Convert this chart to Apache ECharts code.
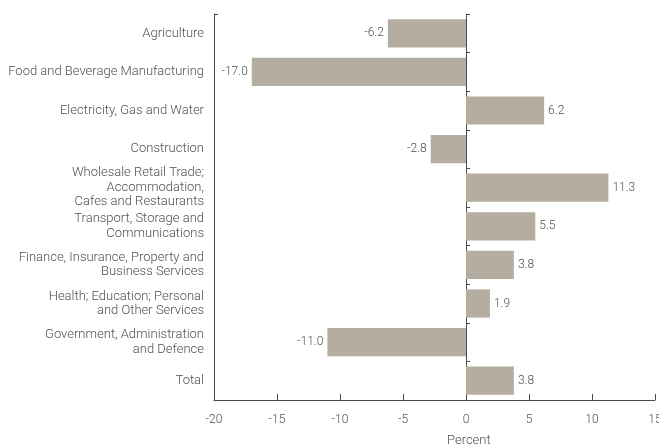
<!DOCTYPE html>
<html>
<head>
<meta charset="utf-8">
<script src="https://cdn.jsdelivr.net/npm/echarts@6/dist/echarts.min.js"></script>
<style>
  html, body { margin: 0; padding: 0; background: #fff; }
  #chart { width: 659px; height: 448px; }
</style>
</head>
<body>
<div id="chart"></div>
<script>
// Industry categories, top to bottom
const categories = [
  'Agriculture',
  'Food and Beverage Manufacturing',
  'Electricity, Gas and Water',
  'Construction',
  'Wholesale Retail Trade;\nAccommodation,\nCafes and Restaurants',
  'Transport, Storage and\nCommunications',
  'Finance, Insurance, Property and\nBusiness Services',
  'Health; Education; Personal\nand Other Services',
  'Government, Administration\nand Defence',
  'Total'
];
// Percent change for each category
const values = [-6.2, -17.0, 6.2, -2.8, 11.3, 5.5, 3.8, 1.9, -11.0, 3.8];
const xTicks = { min: -20, max: 15, interval: 5 };

const textColor = '#505050';
const axisColor = '#4a4a4a';
const barColor = '#b5ada0';
const fontFamily = 'Roboto, "Liberation Sans", sans-serif';

// Value labels sit outside the bar end: left for negatives, right for positives
const barData = values.map(function (v) {
  return {
    value: v,
    label: { position: v < 0 ? 'left' : 'right' }
  };
});

const chart = echarts.init(document.getElementById('chart'), null, { renderer: 'canvas' });
chart.setOption({
  animation: false,
  textStyle: { fontFamily: fontFamily },
  grid: {
    left: 214, right: 4, top: 14, bottom: 48,
    containLabel: false,
    outerBoundsMode: 'none'
  },
  xAxis: {
    type: 'value',
    min: xTicks.min,
    max: xTicks.max,
    interval: xTicks.interval,
    axisLine: { show: true, onZero: false, lineStyle: { color: axisColor, width: 1 } },
    axisTick: { show: true, inside: true, length: 6, lineStyle: { color: axisColor } },
    axisLabel: { color: textColor, fontSize: 12, fontWeight: 300, margin: 14, fontFamily: fontFamily },
    splitLine: { show: false }
  },
  yAxis: [
    {
      type: 'category',
      data: categories,
      inverse: true,
      position: 'left',
      axisLine: { show: true, onZero: false, lineStyle: { color: axisColor, width: 1 } },
      axisTick: {
        show: true, inside: true, length: 4,
        interval: function (i) { return i === 0; },
        lineStyle: { color: axisColor }
      },
      axisLabel: {
        color: textColor, fontSize: 13, fontWeight: 300, margin: 10, lineHeight: 14.5,
        align: 'right', fontFamily: fontFamily
      }
    },
    {
      type: 'category',
      data: categories,
      inverse: true,
      position: 'left',
      axisLine: { show: true, onZero: true, lineStyle: { color: axisColor, width: 1 } },
      axisTick: { show: true, inside: true, length: 4, lineStyle: { color: axisColor } },
      axisLabel: { show: false }
    }
  ],
  series: [{
    type: 'bar',
    data: barData,
    yAxisIndex: 0,
    barWidth: '73%',
    itemStyle: { color: barColor },
    label: {
      show: true,
      distance: 4,
      color: textColor,
      fontSize: 12,
      fontWeight: 300,
      fontFamily: fontFamily,
      formatter: function (p) { return p.value.toFixed(1); }
    }
  }],
  graphic: [{
    type: 'text',
    left: 447,
    top: 434,
    style: { text: 'Percent', fill: textColor, fontSize: 13, fontWeight: 300, fontFamily: fontFamily }
  }]
});
</script>
</body>
</html>
